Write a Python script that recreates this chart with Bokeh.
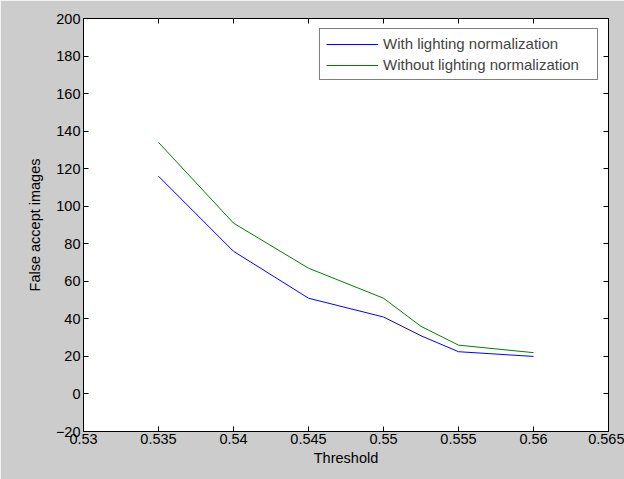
from bokeh.plotting import figure
from bokeh.models import FixedTicker, LinearAxis, Range1d, Legend, LegendItem
from bokeh.embed import file_html
from bokeh.resources import INLINE

# Data
threshold = [0.535, 0.54, 0.545, 0.55, 0.5525, 0.555, 0.56]
with_norm = [116, 76, 51, 41, 31, 22.5, 20]
without_norm = [134, 91, 67, 51, 36, 26, 22]
series_names = ["With lighting normalization", "Without lighting normalization"]

x_ticks = [0.53, 0.535, 0.54, 0.545, 0.55, 0.555, 0.56, 0.565]
x_tick_labels = ["0.53", "0.535", "0.54", "0.545", "0.55", "0.555", "0.56", "0.565"]
y_ticks = [-20, 0, 20, 40, 60, 80, 100, 120, 140, 160, 180, 200]

FONT = "Liberation Sans"
FS = "14.5px"
BG = "#cccccc"

p = figure(width=624, height=479, output_backend="svg", toolbar_location=None,
           x_range=Range1d(0.53, 0.565), y_range=Range1d(-20, 200),
           min_border_left=83, min_border_right=16, min_border_top=18, min_border_bottom=48,
           x_axis_label="Threshold", y_axis_label="False accept images")
p.border_fill_color = BG
p.background_fill_color = "white"
p.outline_line_color = "black"
p.grid.visible = False

r1 = p.line(threshold, with_norm, line_color="#0000ff", line_width=1)
r2 = p.line(threshold, without_norm, line_color="#008000", line_width=1)

def style_axis(ax, labels=True):
    ax.axis_line_color = "black"
    ax.major_tick_in = 5
    ax.major_tick_out = 0
    ax.minor_tick_line_color = None
    ax.major_tick_line_color = "black"
    ax.major_label_text_font = FONT
    ax.major_label_text_font_size = FS
    ax.major_label_text_color = "black"
    ax.axis_label_text_font = FONT
    ax.axis_label_text_font_size = FS
    ax.axis_label_text_font_style = "normal"
    ax.axis_label_text_color = "black"
    if not labels:
        ax.major_label_text_alpha = 0
        ax.major_label_text_font_size = "0px"
        ax.major_label_standoff = 0

xa = p.xaxis[0]
xa.ticker = FixedTicker(ticks=x_ticks)
xa.major_label_overrides = dict(zip(x_ticks, x_tick_labels))
style_axis(xa)
xa.major_label_standoff = 2
xa.axis_label_standoff = 3

ya = p.yaxis[0]
ya.ticker = FixedTicker(ticks=y_ticks)
style_axis(ya)
ya.major_label_standoff = 3
ya.axis_label_standoff = 10

top = LinearAxis(ticker=FixedTicker(ticks=x_ticks))
style_axis(top, labels=False)
p.add_layout(top, "above")
right = LinearAxis(ticker=FixedTicker(ticks=y_ticks))
style_axis(right, labels=False)
p.add_layout(right, "right")

legend = Legend(items=[LegendItem(label=series_names[0], renderers=[r1]),
                       LegendItem(label=series_names[1], renderers=[r2])],
                location="top_right")
legend.label_text_font = FONT
legend.label_text_font_size = "15px"
legend.glyph_width = 52
legend.glyph_height = 16
legend.label_height = 16
legend.label_width = 208
legend.label_standoff = 5
legend.spacing = 4
legend.padding = 6
legend.margin = 10
legend.border_line_color = "black"
legend.border_line_width = 1
legend.background_fill_color = "white"
legend.background_fill_alpha = 1
p.add_layout(legend)

open("out.html", "w").write(file_html(p, INLINE))
